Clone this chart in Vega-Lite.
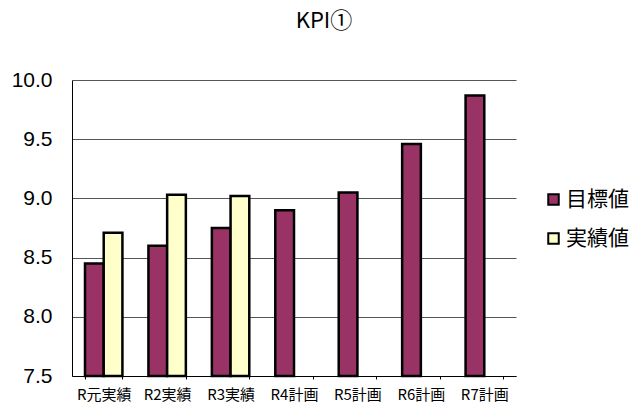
{
  "$schema": "https://vega.github.io/schema/vega-lite/v6.json",
  "width": 444,
  "height": 296,
  "autosize": {"type": "none"},
  "padding": {"left": 72, "top": 80, "right": 120, "bottom": 39},
  "background": "white",
  "title": {
    "text": "KPI①",
    "font": "Noto Sans CJK JP",
    "fontSize": 22,
    "fontWeight": "normal",
    "color": "black",
    "anchor": "middle",
    "frame": "group",
    "dx": 30,
    "offset": 36
  },
  "data": {
    "values": [
      {"year": "R元実績", "series": "目標値", "value": 8.45},
      {"year": "R元実績", "series": "実績値", "value": 8.71},
      {"year": "R2実績", "series": "目標値", "value": 8.6},
      {"year": "R2実績", "series": "実績値", "value": 9.03},
      {"year": "R3実績", "series": "目標値", "value": 8.75},
      {"year": "R3実績", "series": "実績値", "value": 9.02},
      {"year": "R4計画", "series": "目標値", "value": 8.9},
      {"year": "R5計画", "series": "目標値", "value": 9.05},
      {"year": "R6計画", "series": "目標値", "value": 9.46},
      {"year": "R7計画", "series": "目標値", "value": 9.87}
    ]
  },
  "mark": {"type": "bar", "stroke": "black", "strokeWidth": 2.5},
  "encoding": {
    "x": {
      "field": "year",
      "type": "nominal",
      "sort": null,
      "scale": {"paddingInner": 0.41, "paddingOuter": 0.205},
      "axis": {
        "title": null,
        "labelAngle": 0,
        "labelFont": "Noto Sans CJK JP",
        "labelFontSize": 15,
        "labelColor": "black",
        "labelPadding": 8,
        "domainColor": "black",
        "domainWidth": 1,
        "tickColor": "black",
        "tickSize": 3,
        "tickBand": "extent",
        "grid": false
      }
    },
    "xOffset": {"field": "series", "type": "nominal", "sort": ["目標値", "実績値"]},
    "y": {
      "field": "value",
      "type": "quantitative",
      "scale": {"domain": [7.5, 10], "nice": false, "zero": false},
      "axis": {
        "title": null,
        "values": [7.5, 8, 8.5, 9, 9.5, 10],
        "format": ".1f",
        "labelFont": "Liberation Sans",
        "labelFontSize": 21,
        "labelColor": "black",
        "labelPadding": 20,
        "ticks": false,
        "domainColor": "black",
        "domainWidth": 1,
        "grid": true,
        "gridColor": "#555555",
        "gridWidth": 1
      }
    },
    "y2": {"datum": 7.5},
    "fill": {
      "field": "series",
      "type": "nominal",
      "sort": ["目標値", "実績値"],
      "scale": {"domain": ["目標値", "実績値"], "range": ["#993366", "#FFFFCC"]},
      "legend": {
        "title": null,
        "orient": "none",
        "legendX": 471,
        "legendY": 109,
        "padding": 0,
        "symbolType": "square",
        "symbolSize": 110,
        "symbolStrokeColor": "black",
        "symbolStrokeWidth": 2,
        "labelFont": "Noto Sans CJK JP",
        "labelFontSize": 21,
        "labelColor": "black",
        "labelOffset": 2,
        "rowPadding": 17
      }
    }
  },
  "config": {
    "view": {"stroke": null}
  }
}
